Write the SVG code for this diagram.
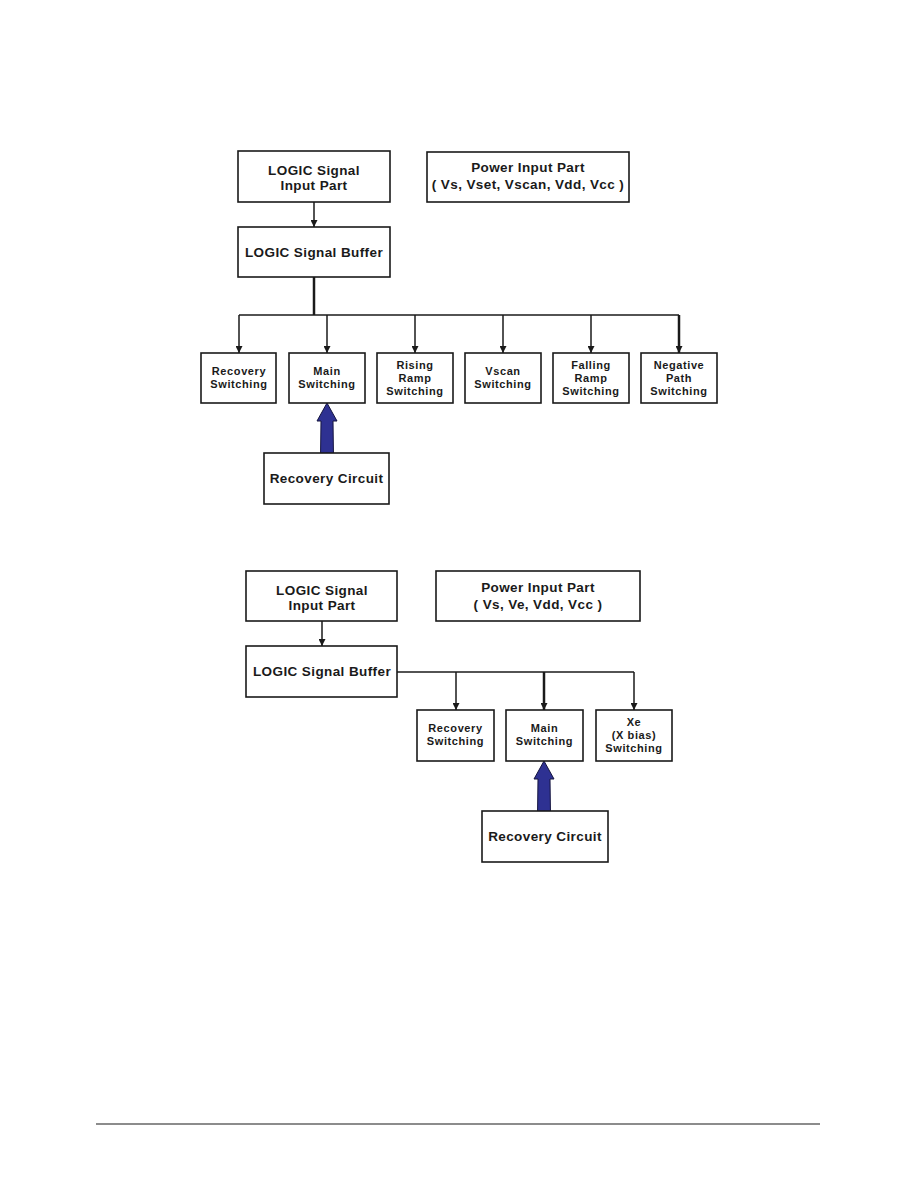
<svg xmlns="http://www.w3.org/2000/svg" width="918" height="1188" viewBox="0 0 918 1188">
<style>
.box{fill:#fff;stroke:#1a1a1a;stroke-width:1.6}
.t{font-family:"Liberation Sans",Arial,sans-serif;font-weight:bold;font-size:13.5px;fill:#1a1a1a;text-anchor:middle;letter-spacing:0.4px}
.s{font-family:"Liberation Sans",Arial,sans-serif;font-weight:bold;font-size:11px;fill:#1a1a1a;text-anchor:middle;letter-spacing:0.6px}
.ln{fill:none;stroke:#1a1a1a;stroke-width:1.5}
.thk{fill:none;stroke:#1a1a1a;stroke-width:2.5}
.big{fill:#2e3192;stroke:#15153f;stroke-width:1}
</style>
<defs>
<marker id="ah" viewBox="0 0 10 10" refX="10" refY="5" markerWidth="7" markerHeight="7" markerUnits="userSpaceOnUse" orient="auto">
<path d="M0,0 L10,5 L0,10 Z" fill="#1a1a1a"/>
</marker>
</defs>
<rect width="918" height="1188" fill="#fff"/>

<g id="connectors">
<line class="ln" x1="314" y1="202" x2="314" y2="227" marker-end="url(#ah)"/>
<line class="thk" x1="314" y1="277" x2="314" y2="315"/>
<line class="ln" x1="239" y1="315" x2="679" y2="315"/>
<line class="ln" x1="239" y1="315" x2="239" y2="353" marker-end="url(#ah)"/>
<line class="ln" x1="327" y1="315" x2="327" y2="353" marker-end="url(#ah)"/>
<line class="ln" x1="415" y1="315" x2="415" y2="353" marker-end="url(#ah)"/>
<line class="ln" x1="503" y1="315" x2="503" y2="353" marker-end="url(#ah)"/>
<line class="ln" x1="591" y1="315" x2="591" y2="353" marker-end="url(#ah)"/>
<line class="thk" x1="679" y1="315" x2="679" y2="353" marker-end="url(#ah)"/>
<path class="big" d="M327,403 L337,421 L333,421 L333.5,458 L327,453 L320.5,458 L321,421 L317,421 Z"/>

<line class="ln" x1="322" y1="621" x2="322" y2="646" marker-end="url(#ah)"/>
<polyline class="ln" points="397,672 634,672"/>
<line class="ln" x1="456" y1="672" x2="456" y2="710" marker-end="url(#ah)"/>
<line class="thk" x1="544" y1="672" x2="544" y2="710" marker-end="url(#ah)"/>
<line class="ln" x1="634" y1="672" x2="634" y2="710" marker-end="url(#ah)"/>
<path class="big" d="M544,761 L554,779 L550,779 L550.5,816 L544,811 L537.5,816 L538,779 L534,779 Z"/>
</g>

<g id="top-logic-input">
<rect class="box" x="238" y="151" width="152" height="51"/>
<text class="t" x="314" y="175">LOGIC Signal</text>
<text class="t" x="314" y="190">Input Part</text>
</g>
<g id="top-power-input">
<rect class="box" x="427" y="152" width="202" height="50"/>
<text class="t" x="528" y="172">Power Input Part</text>
<text class="t" x="528" y="189">( Vs, Vset, Vscan, Vdd, Vcc )</text>
</g>
<g id="top-logic-buffer">
<rect class="box" x="238" y="227" width="152" height="50"/>
<text class="t" x="314" y="257">LOGIC Signal Buffer</text>
</g>
<g id="top-recovery-switching">
<rect class="box" x="201" y="353" width="75" height="50"/>
<text class="s" x="239" y="375">Recovery</text>
<text class="s" x="239" y="388">Switching</text>
</g>
<g id="top-main-switching">
<rect class="box" x="289" y="353" width="76" height="50"/>
<text class="s" x="327" y="375">Main</text>
<text class="s" x="327" y="388">Switching</text>
</g>
<g id="top-rising-ramp">
<rect class="box" x="377" y="353" width="76" height="50"/>
<text class="s" x="415" y="369">Rising</text>
<text class="s" x="415" y="382">Ramp</text>
<text class="s" x="415" y="395">Switching</text>
</g>
<g id="top-vscan">
<rect class="box" x="465" y="353" width="76" height="50"/>
<text class="s" x="503" y="375">Vscan</text>
<text class="s" x="503" y="388">Switching</text>
</g>
<g id="top-falling-ramp">
<rect class="box" x="553" y="353" width="76" height="50"/>
<text class="s" x="591" y="369">Falling</text>
<text class="s" x="591" y="382">Ramp</text>
<text class="s" x="591" y="395">Switching</text>
</g>
<g id="top-negative-path">
<rect class="box" x="641" y="353" width="76" height="50"/>
<text class="s" x="679" y="369">Negative</text>
<text class="s" x="679" y="382">Path</text>
<text class="s" x="679" y="395">Switching</text>
</g>
<g id="top-recovery-circuit">
<rect class="box" x="264" y="453" width="125" height="51"/>
<text class="t" x="326.5" y="483">Recovery Circuit</text>
</g>

<g id="bot-logic-input">
<rect class="box" x="246" y="571" width="151" height="50"/>
<text class="t" x="322" y="595">LOGIC Signal</text>
<text class="t" x="322" y="610">Input Part</text>
</g>
<g id="bot-power-input">
<rect class="box" x="436" y="571" width="204" height="50"/>
<text class="t" x="538" y="592">Power Input Part</text>
<text class="t" x="538" y="609">( Vs, Ve, Vdd, Vcc )</text>
</g>
<g id="bot-logic-buffer">
<rect class="box" x="246" y="646" width="151" height="51"/>
<text class="t" x="322" y="676">LOGIC Signal Buffer</text>
</g>
<g id="bot-recovery-switching">
<rect class="box" x="417" y="710" width="77" height="51"/>
<text class="s" x="455.5" y="732">Recovery</text>
<text class="s" x="455.5" y="745">Switching</text>
</g>
<g id="bot-main-switching">
<rect class="box" x="506" y="710" width="77" height="51"/>
<text class="s" x="544.5" y="732">Main</text>
<text class="s" x="544.5" y="745">Switching</text>
</g>
<g id="bot-xe-switching">
<rect class="box" x="596" y="710" width="76" height="51"/>
<text class="s" x="634" y="726">Xe</text>
<text class="s" x="634" y="739">(X bias)</text>
<text class="s" x="634" y="752">Switching</text>
</g>
<g id="bot-recovery-circuit">
<rect class="box" x="482" y="811" width="126" height="51"/>
<text class="t" x="545" y="841">Recovery Circuit</text>
</g>

<line x1="96" y1="1124" x2="820" y2="1124" stroke="#1a1a1a" stroke-width="1.2"/>
</svg>
